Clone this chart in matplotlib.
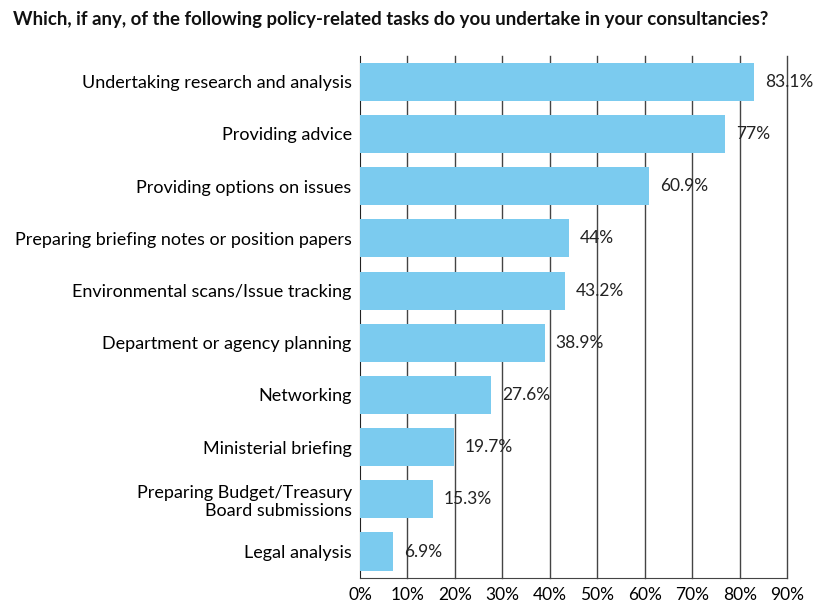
import matplotlib.pyplot as plt
import numpy as np

tasks = [
    'Undertaking research and analysis',
    'Providing advice',
    'Providing options on issues',
    'Preparing briefing notes or position papers',
    'Environmental scans/Issue tracking',
    'Department or agency planning',
    'Networking',
    'Ministerial briefing',
    'Preparing Budget/Treasury\nBoard submissions',
    'Legal analysis',
]
shares = [83.1, 77, 60.9, 44, 43.2, 38.9, 27.6, 19.7, 15.3, 6.9]
value_labels = ['83.1%', '77%', '60.9%', '44%', '43.2%', '38.9%', '27.6%', '19.7%', '15.3%', '6.9%']
ticks = np.arange(0, 91, 10)

plt.rcParams['font.family'] = ['Lato', 'DejaVu Sans']

fig = plt.figure(figsize=(8.19, 6.02), dpi=100)
ax = fig.add_axes([0.4396, 0.0405, 0.5215, 0.867])

y = np.arange(len(tasks))
ax.barh(y, shares, height=0.73, color='#7bcbef', zorder=3)
for yi, v, lab in zip(y, shares, value_labels):
    ax.text(v + 2.3, yi, lab, va='center', ha='left', fontsize=12.5, color='#222222', zorder=4)

ax.set_yticks(y)
ax.set_yticklabels(tasks, fontsize=13, linespacing=1.2)
ax.set_xticks(ticks)
ax.set_xticklabels([f'{t}%' for t in ticks], fontsize=12.5)
ax.set_xlim(0, 90)
ax.set_ylim(len(tasks) - 0.5, -0.5)
ax.tick_params(length=0, pad=6)
ax.tick_params(axis='x', pad=7)

# vertical gridlines, drawn unclipped so the 90% line is full width
for t in ticks[1:]:
    ax.axvline(t, color='#444444', linewidth=1, zorder=0, clip_on=False)
for s in ['top', 'right']:
    ax.spines[s].set_visible(False)
ax.spines['left'].set_color('#222222')
ax.spines['bottom'].set_color('#444444')

fig.text(0.016, 0.968, 'Which, if any, of the following policy-related tasks do you undertake in your consultancies?',
         fontsize=13.4, fontweight='bold', ha='left', va='center', color='#111111')

fig.savefig('out.png', dpi=100)
